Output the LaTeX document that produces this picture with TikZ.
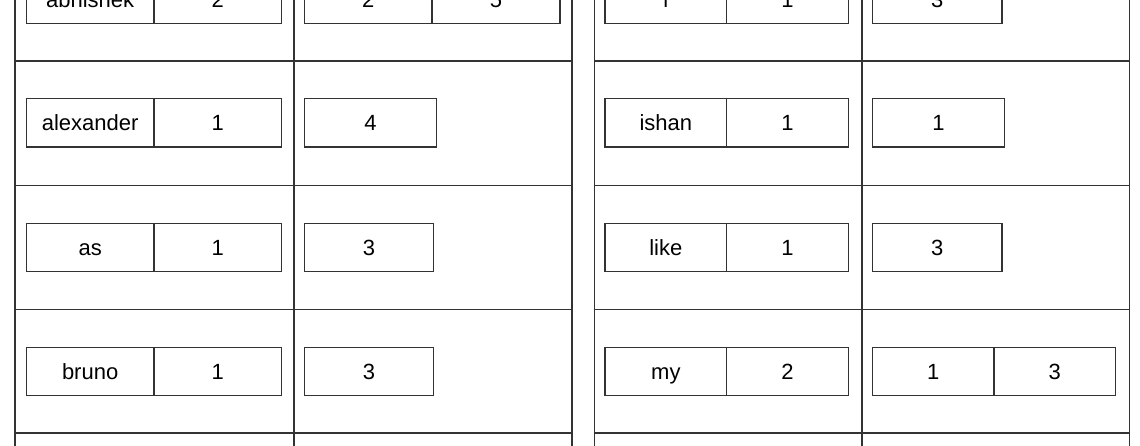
\documentclass[tikz,border=0pt]{standalone}
\usepackage{fontspec}
\setmainfont{Liberation Sans}
\definecolor{linec}{HTML}{333333}
\begin{document}
\begin{tikzpicture}[x=1pt,y=-1pt,
  cellbox/.style={draw=linec, line width=1.1pt, rectangle, inner sep=0pt,
    minimum height=48.3pt, text height=15.8pt, text depth=0pt,
    font=\fontsize{22}{22}\selectfont, anchor=center},
  gridline/.style={draw=linec, line width=1.2pt}]
\useasboundingbox (0,0) rectangle (1140,445);
\clip (0,0) rectangle (1140,445);
% left table frame
\foreach \x in {15,294,572} \draw[gridline] (\x,-80) -- (\x,520);
\foreach \y in {-63.3,61,185.3,309.5,433} \draw[gridline] (15,\y) -- (572,\y);
% right table frame
\foreach \x in {594.7,862,1129.5} \draw[gridline] (\x,-80) -- (\x,520);
\foreach \y in {-63.3,61,185.3,309.5,433} \draw[gridline] (594.7,\y) -- (1129.5,\y);
% left table rows
\node[cellbox, minimum width=127.7pt] (Lw0) at (90.15,-0.7) {abhishek};
\node[cellbox, minimum width=127.7pt] (Lc0) at (217.85,-0.7) {2};
\node[cellbox, minimum width=127.7pt] (Lp0a) at (368.15,-0.7) {2};
\node[cellbox, minimum width=128pt] (Lp0b) at (496,-0.7) {5};
\node[cellbox, minimum width=127.7pt] (Lw1) at (90.15,122.8) {alexander};
\node[cellbox, minimum width=127.7pt] (Lc1) at (217.85,122.8) {1};
\node[cellbox, minimum width=132.4pt] (Lp1) at (370.5,122.8) {4};
\node[cellbox, minimum width=127.7pt] (Lw2) at (90.15,247.5) {as};
\node[cellbox, minimum width=127.7pt] (Lc2) at (217.85,247.5) {1};
\node[cellbox, minimum width=129.4pt] (Lp2) at (369,247.5) {3};
\node[cellbox, minimum width=127.7pt] (Lw3) at (90.15,371.2) {bruno};
\node[cellbox, minimum width=127.7pt] (Lc3) at (217.85,371.2) {1};
\node[cellbox, minimum width=129.4pt] (Lp3) at (369,371.2) {3};
% right table rows
\node[cellbox, minimum width=121.7pt] (Rw0) at (665.85,-0.7) {i};
\node[cellbox, minimum width=121.6pt] (Rc0) at (787.5,-0.7) {1};
\node[cellbox, minimum width=129.7pt] (Rp0) at (937.15,-0.7) {3};
\node[cellbox, minimum width=121.7pt] (Rw1) at (665.85,122.8) {ishan};
\node[cellbox, minimum width=121.6pt] (Rc1) at (787.5,122.8) {1};
\node[cellbox, minimum width=132.4pt] (Rp1) at (938.5,122.8) {1};
\node[cellbox, minimum width=121.7pt] (Rw2) at (665.85,247.5) {like};
\node[cellbox, minimum width=121.6pt] (Rc2) at (787.5,247.5) {1};
\node[cellbox, minimum width=129.7pt] (Rp2) at (937.15,247.5) {3};
\node[cellbox, minimum width=121.7pt] (Rw3) at (665.85,371.2) {my};
\node[cellbox, minimum width=121.6pt] (Rc3) at (787.5,371.2) {2};
\node[cellbox, minimum width=121.7pt] (Rp3a) at (933.15,371.2) {1};
\node[cellbox, minimum width=121.7pt] (Rp3b) at (1054.85,371.2) {3};
\end{tikzpicture}
\end{document}
